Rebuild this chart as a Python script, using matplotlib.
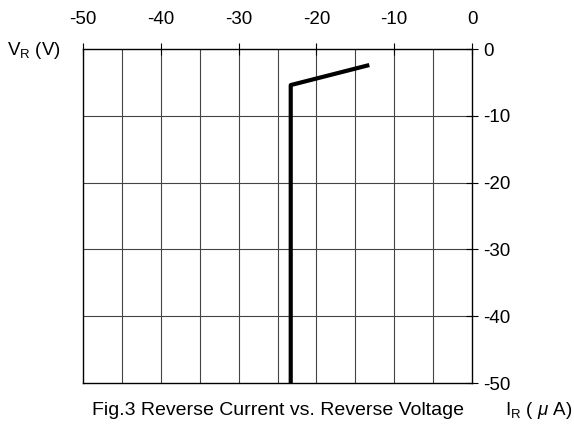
import numpy as np
import matplotlib.pyplot as plt

plt.rcParams["font.family"] = ["Liberation Sans", "DejaVu Sans"]
plt.rcParams["axes.unicode_minus"] = False
plt.rcParams["mathtext.fontset"] = "custom"
plt.rcParams["mathtext.it"] = "Liberation Sans:italic"
plt.rcParams["mathtext.rm"] = "Liberation Sans"

# data
current_uA = [-23.3, -23.3, -13.2]
voltage_V = [-50, -5.4, -2.4]

x_ticks = [-50, -40, -30, -20, -10, 0]
y_ticks = [0, -10, -20, -30, -40, -50]

fig = plt.figure(figsize=(5.74, 4.25), dpi=100)
ax = fig.add_axes([0.1446, 0.0988, 0.6777, 0.7859])

ax.set_xlim(-50, 0)
ax.set_ylim(-50, 0)

# grid: vertical every 5, horizontal every 10
for xv in np.arange(-45, 0, 5):
    ax.axvline(xv, color="#444444", lw=0.8, zorder=1)
for yv in y_ticks[1:-1]:
    ax.axhline(yv, color="#444444", lw=0.8, zorder=1)

ax.plot(current_uA, voltage_V, color="black", lw=3, zorder=3, solid_capstyle="butt")

ax.xaxis.tick_top()
ax.yaxis.tick_right()
ax.set_xticks(x_ticks)
ax.set_yticks(y_ticks)
ax.tick_params(direction="inout", length=8, width=0.8, labelsize=13.5)
ax.tick_params(axis="x", pad=11)
ax.tick_params(axis="y", pad=4)
for s in ax.spines.values():
    s.set_linewidth(1.0)

fig.text(0.013, 0.882, "V$_\\mathregular{R}$ (V)", fontsize=13.5, va="center")
fig.text(0.485, 0.033, "Fig.3 Reverse Current vs. Reverse Voltage", fontsize=14,
         ha="center", va="center")
fig.text(0.88, 0.033, "I$_\\mathregular{R}$ ( $\\mu$ A)", fontsize=13.5, va="center")

fig.savefig("out.png", dpi=100)
